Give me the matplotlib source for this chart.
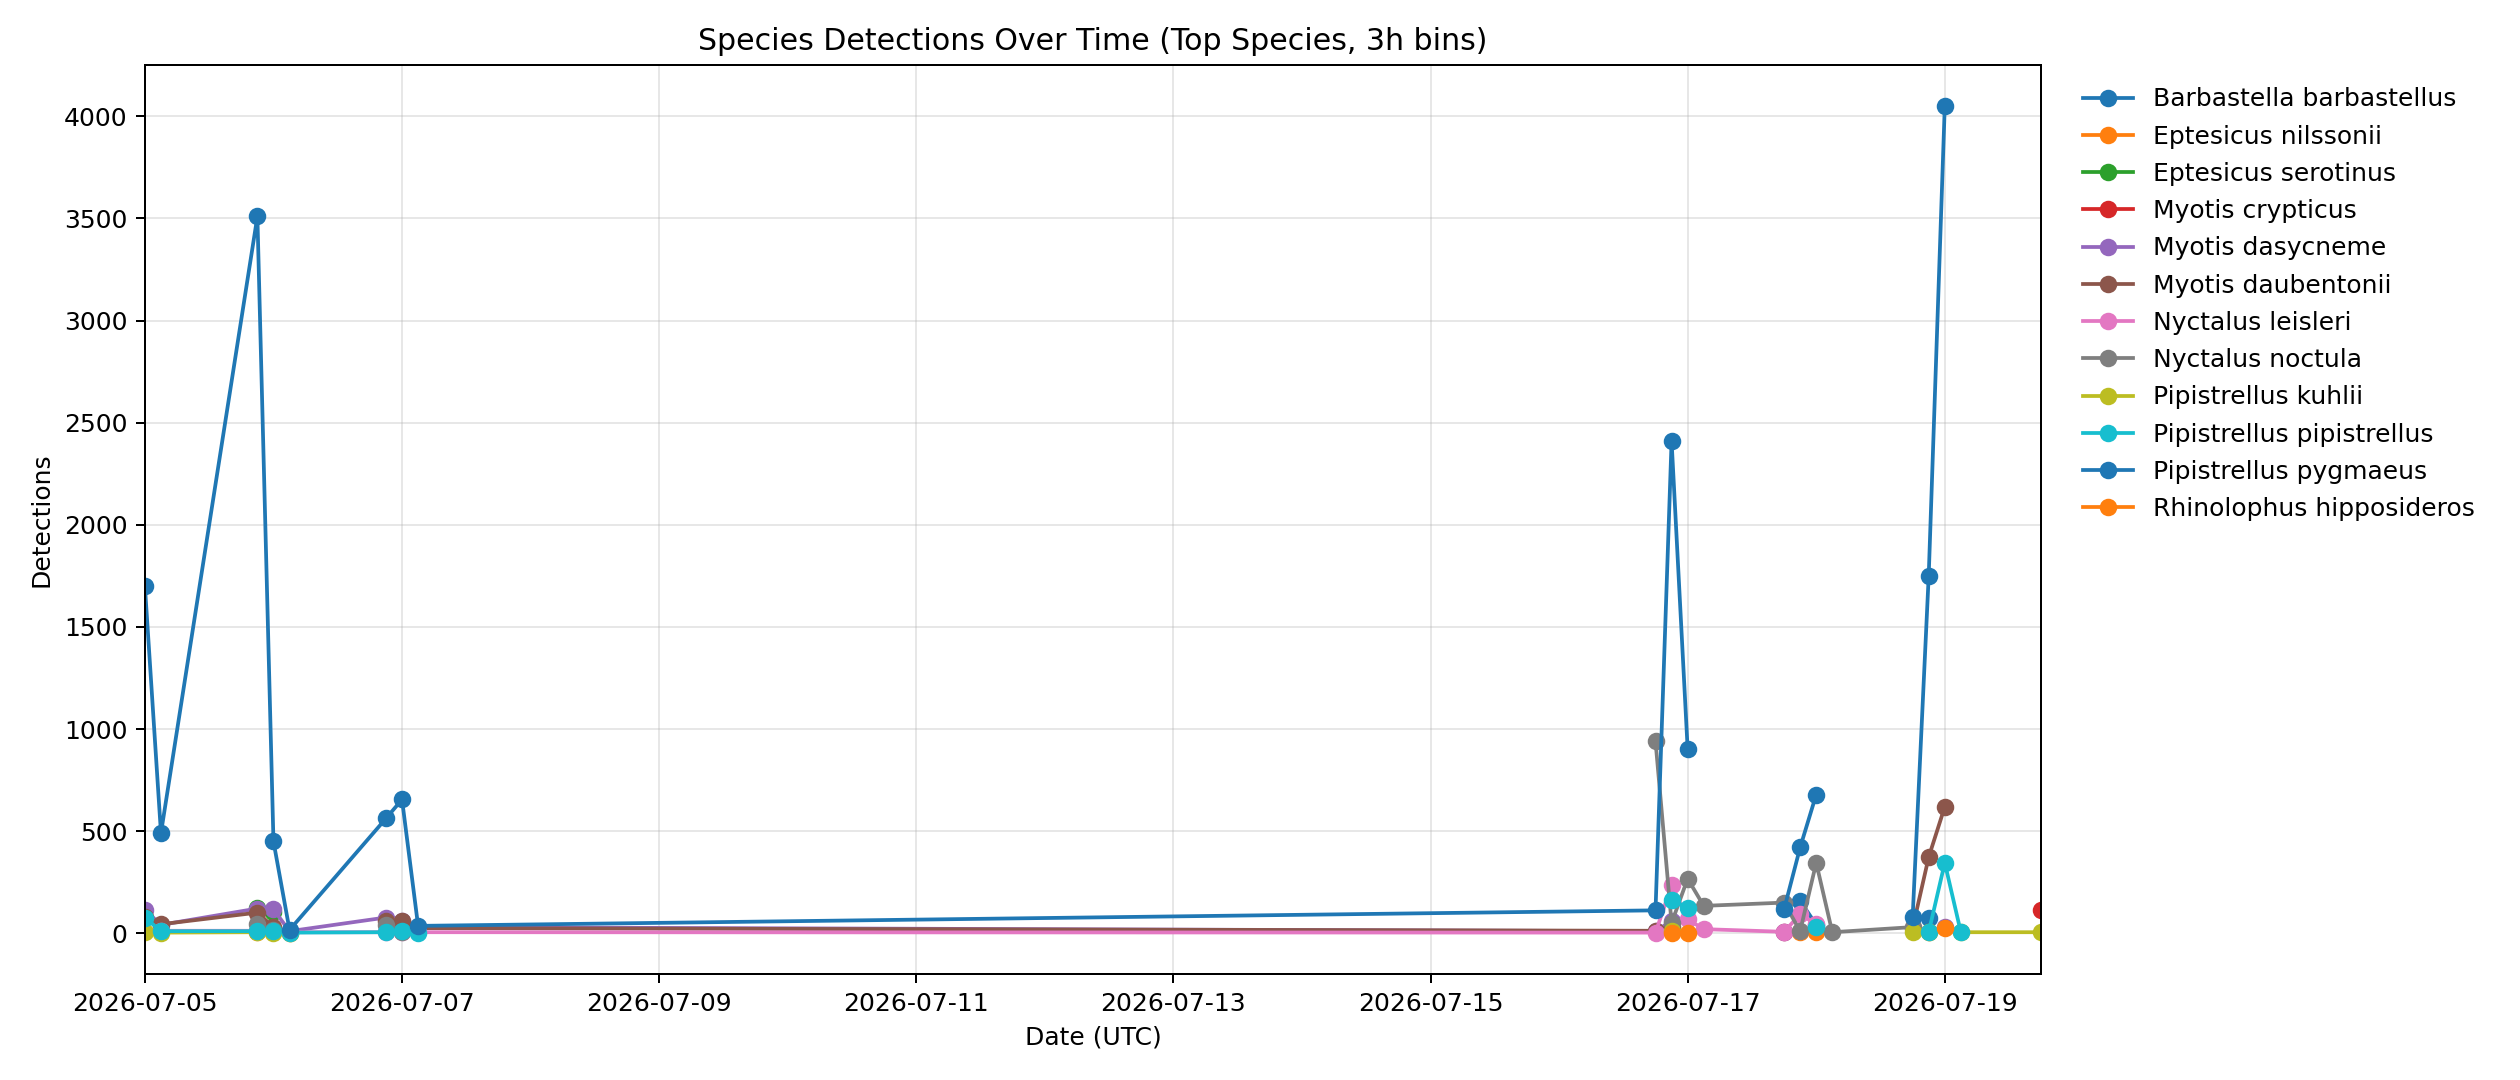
import numpy as np
import pandas as pd
import matplotlib
matplotlib.use("Agg")
import matplotlib.pyplot as plt
import matplotlib.dates as mdates

nan = np.nan

# 3h bins present in the data (union over species)
bins = [
    "2026-07-05 00:00", "2026-07-05 03:00", "2026-07-05 21:00", "2026-07-06 00:00",
    "2026-07-06 03:00", "2026-07-06 21:00", "2026-07-07 00:00", "2026-07-07 03:00",
    "2026-07-16 18:00", "2026-07-16 21:00", "2026-07-17 00:00", "2026-07-17 03:00",
    "2026-07-17 18:00", "2026-07-17 21:00", "2026-07-18 00:00", "2026-07-18 03:00",
    "2026-07-18 18:00", "2026-07-18 21:00", "2026-07-19 00:00", "2026-07-19 03:00",
    "2026-07-19 18:00",
]

species = [
    "Barbastella barbastellus", "Eptesicus nilssonii", "Eptesicus serotinus",
    "Myotis crypticus", "Myotis dasycneme", "Myotis daubentonii",
    "Nyctalus leisleri", "Nyctalus noctula", "Pipistrellus kuhlii",
    "Pipistrellus pipistrellus", "Pipistrellus pygmaeus", "Rhinolophus hipposideros",
]

barbastella = [nan, nan, nan, nan, nan, nan, nan, nan, nan, nan, nan, nan,
               nan, 158, 42, nan, nan, 77, nan, nan, nan]
nilssonii = [nan, 12, 8, 8, 3, nan, nan, nan, nan, nan, nan, nan,
             nan, 5, 5, nan, nan, 7, nan, nan, nan]
serotinus = [nan, nan, 125, 105, nan, nan, nan, nan, nan, nan, nan, nan,
             nan, nan, nan, nan, nan, nan, nan, nan, nan]
crypticus = [nan, nan, nan, nan, nan, nan, nan, nan, nan, nan, nan, nan,
             5, nan, nan, nan, nan, nan, nan, nan, 112]
dasycneme = [114, 41, 121, 117, 10, 77, 62, 30, 10, 60, nan, nan,
             8, nan, nan, nan, nan, nan, 30, nan, nan]
daubentonii = [80, 44, 101, 30, nan, 60, 60, 25, 12, 30, nan, nan,
               nan, nan, nan, nan, 25, 373, 619, nan, nan]
leisleri = [nan, 12, 12, 8, 5, 5, 5, 5, 3, 235, 68, 20,
            7, 93, 44, nan, nan, nan, nan, nan, nan]
noctula = [nan, nan, 44, 15, nan, 41, 5, nan, 940, 50, 267, 134,
           150, 10, 345, 5, 30, nan, nan, nan, nan]
kuhlii = [5, 3, 5, 3, 2, nan, nan, nan, nan, 10, nan, nan,
          nan, nan, nan, nan, 7, 7, nan, 5, 5]
pipistrellus = [77, 10, 10, 10, 3, 5, 10, 2, nan, 163, 125, nan,
                nan, nan, 30, nan, nan, 5, 345, 5, nan]
pygmaeus = [1700, 490, 3510, 450, 16, 562, 655, 36, 112, 2410, 902, nan,
            117, 420, 679, nan, 78, 1750, 4050, nan, nan]
hipposideros = [nan, nan, nan, nan, nan, nan, nan, nan, nan, 3, 3, nan,
                nan, nan, nan, nan, nan, nan, 28, nan, nan]

series = [barbastella, nilssonii, serotinus, crypticus, dasycneme, daubentonii,
          leisleri, noctula, kuhlii, pipistrellus, pygmaeus, hipposideros]

times = pd.to_datetime(bins)

fig, ax = plt.subplots(figsize=(14, 6), dpi=180)
fig.subplots_adjust(left=0.0575, right=0.81, top=0.94, bottom=0.098)

for name, vals in zip(species, series):
    ax.plot(times, np.array(vals, dtype=float), marker="o", label=name)

ax.set_xlim(times[0], times[-1])
ticks = pd.date_range("2026-07-05", "2026-07-19", freq="2D")
ax.set_xticks(ticks)
ax.xaxis.set_major_formatter(mdates.DateFormatter("%Y-%m-%d"))
ax.grid(True, alpha=0.3)
ax.set_title("Species Detections Over Time (Top Species, 3h bins)")
ax.set_xlabel("Date (UTC)")
ax.set_ylabel("Detections")
ax.legend(loc="upper left", bbox_to_anchor=(1.01, 1.0), frameon=False,
          labelspacing=0.53)

fig.savefig("out.png", dpi=180)
